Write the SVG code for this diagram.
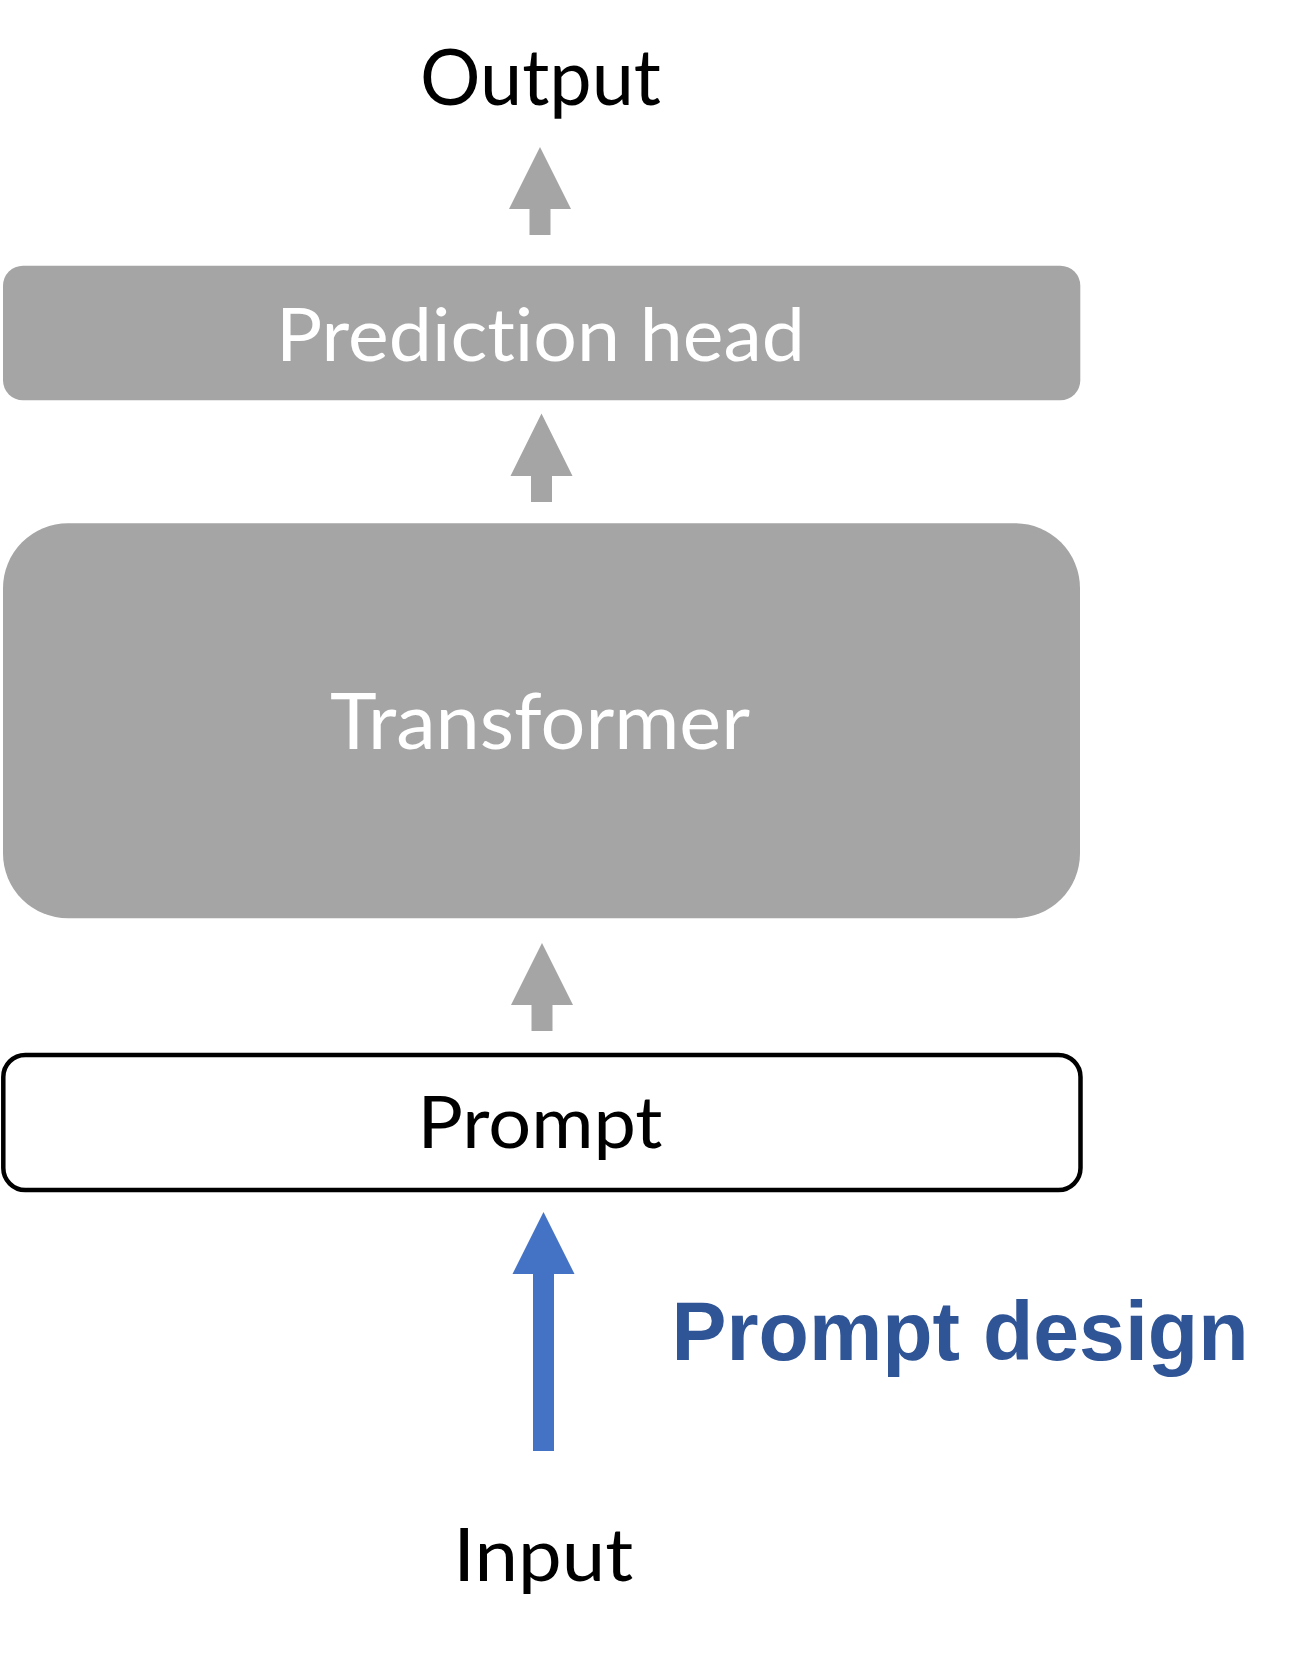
<svg xmlns="http://www.w3.org/2000/svg" width="1301" height="1654" viewBox="0 0 1301 1654">
  <style>
    .lbl { font-family: Lato, "Open Sans", "Liberation Sans", sans-serif; text-anchor: middle; font-variant-ligatures: none; font-feature-settings: "liga" 0, "clig" 0; }
    .dark { fill: #000000; }
    .light { fill: #FFFFFF; }
    .graybox { fill: #A5A5A5; }
    .garrow { fill: #A5A5A5; }
    .barrow { fill: #4472C4; }
    .design { font-family: "Liberation Sans", Arial, sans-serif; font-weight: bold; fill: #2F5597; text-anchor: middle; }
  </style>
  <rect x="0" y="0" width="1301" height="1654" fill="#FFFFFF"/>

  <g id="output">
    <text class="lbl dark" x="540.5" y="105" font-size="78" textLength="241" lengthAdjust="spacingAndGlyphs">Output</text>
  </g>

  <g id="prediction-head">
    <rect class="graybox" x="3" y="265.7" width="1077.3" height="134.6" rx="20" ry="20"/>
    <text class="lbl light" x="540.5" y="361" font-size="73" textLength="529" lengthAdjust="spacingAndGlyphs">Prediction head</text>
  </g>

  <g id="transformer">
    <rect class="graybox" x="3" y="523.3" width="1077" height="395" rx="65" ry="65"/>
    <text class="lbl light" x="540" y="749.3" font-size="78" textLength="420" lengthAdjust="spacingAndGlyphs">Transformer</text>
  </g>

  <g id="prompt">
    <rect x="3.3" y="1055" width="1077.2" height="135" rx="22" ry="22" fill="#FFFFFF" stroke="#000000" stroke-width="4.5"/>
    <text class="lbl dark" x="540" y="1148.3" font-size="72" textLength="245" lengthAdjust="spacingAndGlyphs">Prompt</text>
  </g>

  <g id="input">
    <text class="lbl dark" x="543.3" y="1580.7" font-size="73" textLength="180" lengthAdjust="spacingAndGlyphs">Input</text>
  </g>

  <g id="prompt-design-label">
    <text class="design" x="960" y="1360" font-size="84" textLength="577" lengthAdjust="spacingAndGlyphs">Prompt design</text>
  </g>

  <g id="connectors">
    <polygon class="garrow" points="540,147 571,209 550.5,209 550.5,235 529.5,235 529.5,209 509,209"/>
    <polygon class="garrow" points="541.5,413.5 572.5,476 552,476 552,502 531,502 531,476 510.5,476"/>
    <polygon class="garrow" points="542,943 573,1005 552.5,1005 552.5,1031 531.5,1031 531.5,1005 511,1005"/>
    <polygon class="barrow" points="543.5,1212 574.5,1274 554,1274 554,1451 533,1451 533,1274 512.5,1274"/>
  </g>
</svg>
